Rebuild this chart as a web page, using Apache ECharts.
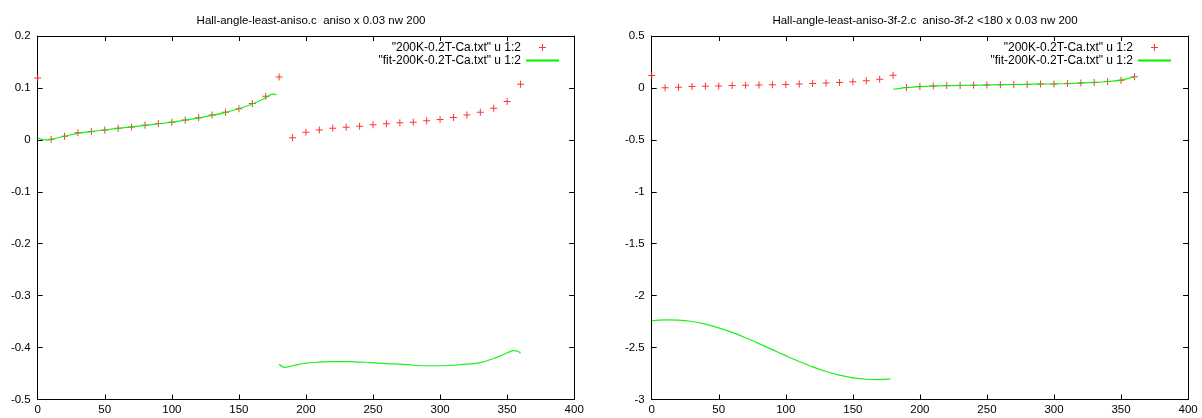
<!DOCTYPE html>
<html>
<head>
<meta charset="utf-8">
<script src="https://cdn.jsdelivr.net/npm/echarts@6/dist/echarts.min.js"></script>
<style>
html,body{margin:0;padding:0;background:#fff;}
#chart{width:1202px;height:418px;}
</style>
</head>
<body>
<div id="chart"></div>
<script>
// ---- data ----
var titles = ['Hall-angle-least-aniso.c  aniso x 0.03 nw 200',
              'Hall-angle-least-aniso-3f-2.c  aniso-3f-2 <180 x 0.03 nw 200'];
var seriesNames = ['"200K-0.2T-Ca.txt" u 1:2', '"fit-200K-0.2T-Ca.txt" u 1:2'];

var ptX = [0,10,20,30,40,50,60,70,80,90,100,110,120,130,140,150,160,170,180,
           190,200,210,220,230,240,250,260,270,280,290,300,310,320,330,340,350,360];
var ptY = [0.119,0.001,0.007,0.0136,0.016,0.019,0.0225,0.025,0.028,0.0316,0.034,0.038,0.0426,0.048,0.053,0.060,0.070,0.084,0.121,
           0.004,0.0147,0.019,0.0225,0.0244,0.0264,0.029,0.031,0.033,0.034,0.037,0.039,0.043,0.048,0.053,0.061,0.074,0.107];

// left panel fit (two pieces)
var fitL1X = [0,3,6,10,20,30,40,50,60,70,80,90,100,110,120,130,140,150,160,170,175,178];
var fitL1Y = [0.004,0.001,0.0,0.001,0.007,0.0125,0.016,0.019,0.022,0.025,0.028,0.031,0.034,0.038,0.042,0.047,0.053,0.060,0.069,0.081,0.088,0.087];
var fitL2X = [180,184,190,200,210,220,230,240,250,260,270,280,290,300,310,320,330,340,345,350,355,358,360];
var fitL2Y = [-0.432,-0.438,-0.435,-0.430,-0.428,-0.427,-0.427,-0.428,-0.429,-0.431,-0.432,-0.434,-0.435,-0.435,-0.434,-0.432,-0.429,-0.421,-0.416,-0.410,-0.406,-0.407,-0.411];

// right panel fit (two pieces)
var fitR1X = [0,10,20,30,40,50,60,70,80,90,100,110,120,130,140,150,160,170,178];
var fitR1Y = [-2.242,-2.233,-2.235,-2.249,-2.275,-2.310,-2.354,-2.406,-2.462,-2.520,-2.578,-2.634,-2.686,-2.730,-2.765,-2.791,-2.805,-2.808,-2.801];
var fitR2X = [180,185,190,200,210,220,230,240,250,260,270,280,290,300,310,320,330,340,350,360];
var fitR2Y = [-0.013,-0.004,0.003,0.012,0.018,0.022,0.024,0.026,0.029,0.031,0.033,0.035,0.037,0.039,0.042,0.047,0.053,0.062,0.076,0.106];

var xTicks = {min:0, max:400, interval:50};
var yTicksL = {min:-0.5, max:0.2, interval:0.1};
var yTicksR = {min:-3, max:0.5, interval:0.5};

function pairs(xs, ys){ return xs.map(function(x,i){return [x, ys[i]];}); }

var FONT = '"Liberation Sans", Arial, Helvetica, sans-serif';
var PLUS = 'path://M-1,-7H1V-1H7V1H1V7H-1V1H-7V-1H-1Z';
var GREEN = '#00f000';

var grids = [
  {left:37.7, top:36, width:536.5, height:363.5},
  {left:651.7, top:36, width:536.4, height:363.5}
];

function xAxisPair(gi){
  var base = {
    gridIndex:gi, type:'value', min:xTicks.min, max:xTicks.max, interval:xTicks.interval,
    axisLine:{onZero:false, lineStyle:{color:'#000', width:1}},
    axisTick:{inside:true, length:5, lineStyle:{color:'#000'}},
    splitLine:{show:false}
  };
  var bottom = Object.assign({}, base, {position:'bottom',
    axisLabel:{color:'#000', fontSize:11.5, fontFamily:FONT, margin:4}});
  var top = Object.assign({}, base, {position:'top', axisLabel:{show:false}});
  return [bottom, top];
}
function yAxisPair(gi, t){
  var base = {
    gridIndex:gi, type:'value', min:t.min, max:t.max, interval:t.interval,
    axisLine:{onZero:false, lineStyle:{color:'#000', width:1}},
    axisTick:{inside:true, length:5, lineStyle:{color:'#000'}},
    splitLine:{show:false}
  };
  var left = Object.assign({}, base, {position:'left',
    axisLabel:{color:'#000', fontSize:11.5, fontFamily:FONT, margin:7}});
  var right = Object.assign({}, base, {position:'right', axisLabel:{show:false}});
  return [left, right];
}

var xAxes = xAxisPair(0).concat(xAxisPair(1));   // 0,1 grid0 ; 2,3 grid1
var yAxes = yAxisPair(0, yTicksL).concat(yAxisPair(1, yTicksR));

function scatter(xi, yi){
  return {type:'scatter', name:seriesNames[0], xAxisIndex:xi, yAxisIndex:yi,
    data:pairs(ptX, ptY), symbol:PLUS, symbolSize:7,
    itemStyle:{color:'#ff2020', opacity:0.9}, z:2};
}
function fitLine(xi, yi, xs, ys){
  return {type:'line', name:seriesNames[1], xAxisIndex:xi, yAxisIndex:yi,
    data:pairs(xs, ys), showSymbol:false, symbol:'none', smooth:0.35,
    lineStyle:{color:GREEN, width:1.2, opacity:0.9}, itemStyle:{color:GREEN}, z:3};
}

function legend(rightPx){
  return {
    orient:'vertical', right:rightPx, top:41, padding:0, align:'right',
    itemWidth:33, itemHeight:7, itemGap:0,
    textStyle:{color:'#000', fontSize:12, fontFamily:FONT, lineHeight:13},
    data:[
      {name:seriesNames[0], icon:PLUS},
      {name:seriesNames[1], itemStyle:{opacity:0}, lineStyle:{color:GREEN, width:2, opacity:1}}
    ],
    selectedMode:false
  };
}

var option = {
  animation:false,
  backgroundColor:'#fff',
  title:[
    {text:titles[0], left:306, top:10, textAlign:'center',
     textStyle:{fontSize:11.5, fontWeight:'normal', color:'#000', fontFamily:FONT}},
    {text:titles[1], left:920, top:10, textAlign:'center',
     textStyle:{fontSize:11.5, fontWeight:'normal', color:'#000', fontFamily:FONT}}
  ],
  legend:[legend(1202-560), legend(1202-1172)],
  grid:grids,
  xAxis:xAxes,
  yAxis:yAxes,
  series:[
    scatter(0,0),
    fitLine(0,0,fitL1X,fitL1Y),
    fitLine(0,0,fitL2X,fitL2Y),
    scatter(2,2),
    fitLine(2,2,fitR1X,fitR1Y),
    fitLine(2,2,fitR2X,fitR2Y)
  ]
};

var chart = echarts.init(document.getElementById('chart'), null, {renderer:'canvas'});
chart.setOption(option);
</script>
</body>
</html>
